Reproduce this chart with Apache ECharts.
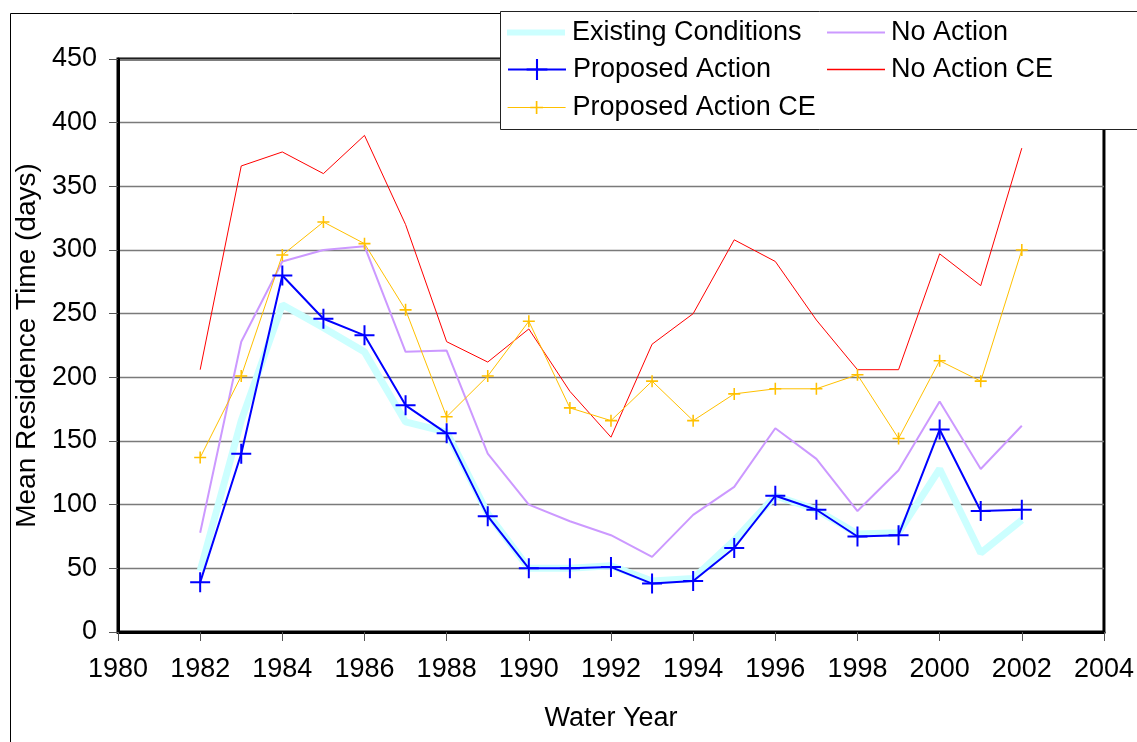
<!DOCTYPE html>
<html>
<head>
<meta charset="utf-8">
<script src="https://cdn.jsdelivr.net/npm/echarts@6/dist/echarts.min.js"></script>
<style>
  html, body { margin: 0; padding: 0; background: #fff; }
  #chart { width: 1137px; height: 742px; }
</style>
</head>
<body>
<div id="chart"></div>
<script>
// Water years 1982–2002
const years = [1982, 1983, 1984, 1985, 1986, 1987, 1988, 1989, 1990, 1991, 1992,
               1993, 1994, 1995, 1996, 1997, 1998, 1999, 2000, 2001, 2002];

// Mean residence time (days) by scenario
const existingConditions = [48, 166, 257, 239, 220, 165, 157, 93, 50, 50, 52,
                            40, 42, 72, 107, 96, 77, 78, 128, 62, 88];
const proposedAction     = [39, 140, 280, 246, 233, 178, 156, 91, 50, 50, 51,
                            38, 40, 66, 107, 96, 75, 76, 159, 95, 96];
const proposedActionCE   = [137, 201, 296, 322, 305, 253, 169, 201, 244, 176, 166,
                            197, 166, 187, 191, 191, 202, 152, 213, 197, 300];
const noAction           = [78, 228, 291, 300, 303, 220, 221, 140, 100, 87, 76,
                            59, 92, 114, 160, 136, 95, 127, 181, 128, 162];
const noActionCE         = [206, 366, 377, 360, 390, 320, 228, 212, 238, 189, 153,
                            226, 250, 308, 291, 245, 206, 206, 297, 272, 380];

const seriesNames = ['Existing Conditions', 'Proposed Action', 'Proposed Action CE',
                     'No Action', 'No Action CE'];

const COLORS = {
  existing: '#ccffff',
  proposed: '#0000ff',
  proposedCE: '#ffc000',
  noAction: '#cc99ff',
  noActionCE: '#ff0000'
};

const FONT = '"Liberation Sans", Arial, sans-serif';
const FS = 27;

// Cross-shaped markers drawn as thin filled plus signs
const plusThick = 'path://M-1,-10L1,-10L1,-1L10,-1L10,1L1,1L1,10L-1,10L-1,1L-10,1L-10,-1L-1,-1Z';
const plusThin  = 'path://M-1.3,-10L1.3,-10L1.3,-1.3L10,-1.3L10,1.3L1.3,1.3L1.3,10L-1.3,10L-1.3,1.3L-10,1.3L-10,-1.3L-1.3,-1.3Z';

const pairs = arr => years.map((y, i) => [y, arr[i]]);

const chart = echarts.init(document.getElementById('chart'), null, { renderer: 'canvas' });

const legendText = shift => ({ fontFamily: FONT, fontSize: FS, color: '#000', padding: [0, 0, 0, shift] });

// Legend entry for a series with markers: line plus its cross symbol
function markerLegend(name, left, top, itemHeight, color, lineWidth) {
  return {
    data: [name], left, top, orient: 'vertical', padding: 0,
    itemWidth: 58, itemHeight, itemGap: 0, selectedMode: false, z: 10,
    lineStyle: { color: color, width: lineWidth },
    textStyle: legendText(2)
  };
}

// Legend entry for a plain line series: a flat bar as thick as the line
function lineLegend(name, left, top, color, lineWidth, shift) {
  return {
    data: [{ name: name, icon: 'rect' }], left, top, orient: 'vertical', padding: 0,
    itemWidth: 58, itemHeight: lineWidth, itemGap: 0, selectedMode: false, z: 10,
    itemStyle: { color: color, borderWidth: 0, opacity: 1 },
    textStyle: legendText(shift)
  };
}

chart.setOption({
  animation: false,
  backgroundColor: '#fff',
  graphic: [
    // outer chart frame
    { type: 'rect', left: 8, top: 11, shape: { x: 0, y: 0, width: 1200, height: 800 },
      style: { fill: 'none', stroke: '#000', lineWidth: 1 }, z: 0 },
    // legend box
    { type: 'rect', left: 500, top: 11, shape: { x: 0, y: 0, width: 700, height: 118 },
      style: { fill: '#fff', stroke: '#222', lineWidth: 1 }, z: 5 }
  ],
  legend: [
    lineLegend('Existing Conditions', 507, 19, COLORS.existing, 6, 2),
    markerLegend('Proposed Action', 507, 56, 26, COLORS.proposed, 2),
    markerLegend('Proposed Action CE', 507, 94, 16, COLORS.proposedCE, 1.2),
    lineLegend('No Action', 827, 19, COLORS.noAction, 2, 1),
    lineLegend('No Action CE', 827, 56, COLORS.noActionCE, 1.6, 1)
  ],
  grid: {
    left: 118, top: 59, right: 30, bottom: 110,
    show: true, borderColor: '#000', borderWidth: 3, backgroundColor: 'transparent'
  },
  xAxis: {
    type: 'value',
    min: 1980, max: 2004, interval: 2,
    name: 'Water Year',
    nameLocation: 'middle',
    nameGap: 73,
    nameTextStyle: { fontFamily: FONT, fontSize: FS, color: '#000' },
    axisLine: { show: true, lineStyle: { color: '#000', width: 3 } },
    axisTick: { show: true, length: 9, lineStyle: { color: '#555', width: 1 } },
    axisLabel: { fontFamily: FONT, fontSize: FS, color: '#000', margin: 24,
                 formatter: v => String(v) },
    splitLine: { show: false }
  },
  yAxis: {
    type: 'value',
    min: 0, max: 450, interval: 50,
    name: 'Mean Residence Time (days)',
    nameLocation: 'middle',
    nameGap: 72,
    nameTextStyle: { fontFamily: FONT, fontSize: 28, color: '#000' },
    axisLine: { show: true, lineStyle: { color: '#000', width: 3 } },
    axisTick: { show: true, length: 9, lineStyle: { color: '#555', width: 1 } },
    axisLabel: { fontFamily: FONT, fontSize: FS, color: '#000', margin: 21 },
    splitLine: { show: true, lineStyle: { color: '#7a7a7a', width: 1.3 } }
  },
  series: [
    {
      name: seriesNames[0], type: 'line', data: pairs(existingConditions),
      symbol: 'none', z: 2,
      lineStyle: { color: COLORS.existing, width: 7 },
      itemStyle: { color: COLORS.existing }
    },
    {
      name: seriesNames[3], type: 'line', data: pairs(noAction),
      symbol: 'none', z: 3,
      lineStyle: { color: COLORS.noAction, width: 2 },
      itemStyle: { color: COLORS.noAction }
    },
    {
      name: seriesNames[4], type: 'line', data: pairs(noActionCE),
      symbol: 'none', z: 3,
      lineStyle: { color: COLORS.noActionCE, width: 1 },
      itemStyle: { color: COLORS.noActionCE }
    },
    {
      name: seriesNames[2], type: 'line', data: pairs(proposedActionCE),
      symbol: plusThin, symbolSize: 12, showAllSymbol: true, z: 4,
      lineStyle: { color: COLORS.proposedCE, width: 1 },
      itemStyle: { color: COLORS.proposedCE }
    },
    {
      name: seriesNames[1], type: 'line', data: pairs(proposedAction),
      symbol: plusThick, symbolSize: 20, showAllSymbol: true, z: 5,
      lineStyle: { color: COLORS.proposed, width: 2 },
      itemStyle: { color: COLORS.proposed }
    }
  ]
});
</script>
</body>
</html>
